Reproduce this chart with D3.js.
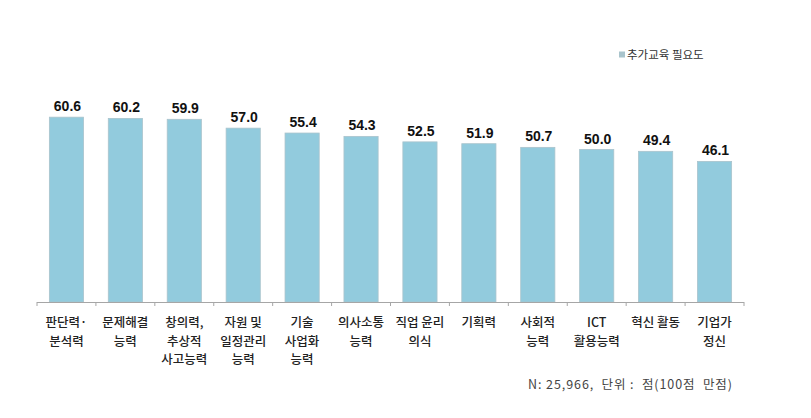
<!DOCTYPE html>
<html><head><meta charset="utf-8">
<script src="https://cdn.jsdelivr.net/npm/d3@7"></script>
<style>body{margin:0;background:#fff}svg{display:block}</style>
</head><body>
<script>
const categories = [
  ["판단력·","분석력"],
  ["문제해결","능력"],
  ["창의력,","추상적","사고능력"],
  ["자원 및","일정관리","능력"],
  ["기술","사업화","능력"],
  ["의사소통","능력"],
  ["직업 윤리","의식"],
  ["기획력"],
  ["사회적","능력"],
  ["ICT","활용능력"],
  ["혁신 활동"],
  ["기업가","정신"]
];
const values = [60.6, 60.2, 59.9, 57.0, 55.4, 54.3, 52.5, 51.9, 50.7, 50.0, 49.4, 46.1];
const seriesName = "추가교육 필요도";
const footnote = "N: 25,966,  단위 :  점(100점  만점)";

const W = 811, H = 418;
const svg = d3.select("body").append("svg").attr("width", W).attr("height", H);
const ids = categories.map((c,i)=>i);
const x = d3.scaleBand().domain(ids).range([37, 744]).paddingInner(0.42).paddingOuter(0.21);
const y = d3.scaleLinear().domain([0, 70]).range([302, 302 - 3.05*70]);
const kfont = "'Noto Sans CJK KR', 'Noto Sans', sans-serif";

svg.append("g").selectAll("rect").data(values).join("rect")
  .attr("x", (d,i)=>x(i)).attr("width", x.bandwidth())
  .attr("y", d=>y(d)).attr("height", d=>y(0)-y(d))
  .attr("fill", "#92cbdd").attr("stroke", "#aac3cc").attr("stroke-width", 0.8);

svg.append("g").selectAll("text").data(values).join("text")
  .attr("x", (d,i)=>x(i)+x.bandwidth()/2 + 1).attr("y", d=>y(d)-6)
  .attr("text-anchor","middle").attr("font-family","'Liberation Sans', Arial, sans-serif")
  .attr("font-weight","bold").attr("font-size", 14).attr("fill","#111")
  .text(d=>d.toFixed(1));

// axis
const ax = svg.append("g");
const r = x.range();
ax.append("line").attr("x1", r[0]).attr("x2", r[1]).attr("y1", y(0)+0.5).attr("y2", y(0)+0.5)
  .attr("stroke","#a6a6a6").attr("stroke-width",1.2);
const step = x.step();
const bounds = d3.range(categories.length+1).map(i => r[0] + i*step);
ax.selectAll("line.t").data(bounds).join("line").attr("class","t")
  .attr("x1", d=>d).attr("x2", d=>d).attr("y1", y(0)).attr("y2", y(0)+4)
  .attr("stroke","#a6a6a6").attr("stroke-width",1);

const lab = svg.append("g").selectAll("text").data(categories).join("text")
  .attr("x", (d,i)=>x(i)+x.bandwidth()/2).attr("y", 327)
  .attr("text-anchor","middle").attr("font-family", kfont).attr("font-weight", 500)
  .attr("font-size", 12.5).attr("fill","#222");
lab.selectAll("tspan").data(d=>d).join("tspan")
  .attr("x", function(){return this.parentNode.getAttribute("x");})
  .attr("dy", (d,i)=> i===0 ? 0 : 18.5).text(d=>d);

// legend
const lg = svg.append("g");
lg.append("rect").attr("x", 619).attr("y", 51.5).attr("width", 6).attr("height", 6).attr("fill","#a9c4cc");
lg.append("text").attr("x", 627).attr("y", 59).attr("font-family", kfont).attr("font-size", 11.5)
  .attr("fill","#333").text(seriesName);

svg.append("text").attr("x", 528).attr("y", 389).attr("font-family", kfont).attr("font-size", 12.5)
  .attr("fill","#444").attr("xml:space","preserve").style("white-space","pre")
  .attr("textLength", 204).attr("lengthAdjust","spacing").text(footnote);
</script>
</body></html>
